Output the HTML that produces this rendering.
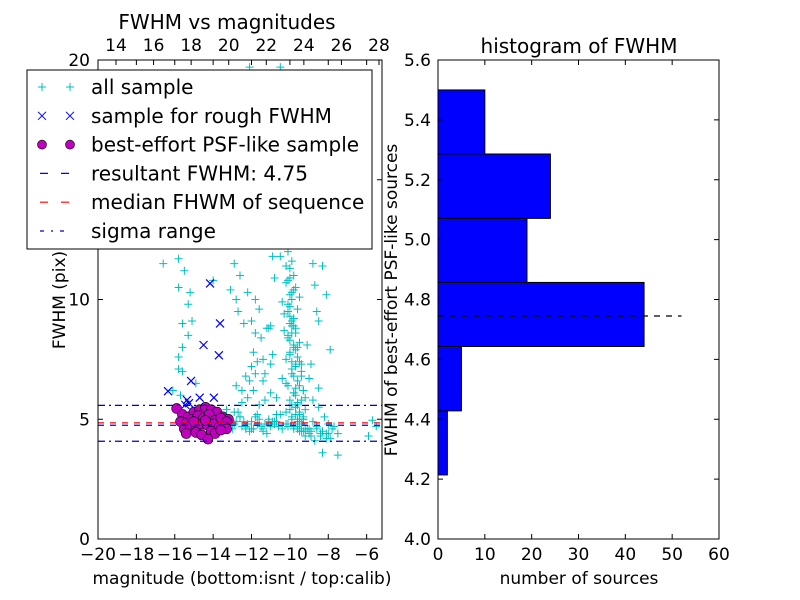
<!DOCTYPE html>
<html><head><meta charset="utf-8"><style>
body{margin:0;background:#fff;}
svg{display:block;font-family:"DejaVu Sans","Liberation Sans",sans-serif;}
</style></head><body>
<svg id="fig" width="800" height="600" xmlns="http://www.w3.org/2000/svg">
<rect width="800" height="600" fill="#fff"/>
</svg>
<script>
// ---- data: left panel ----
const allMag = [-12.1,-10.5,-10.4,-10.3,-9.8,-16.6,-15.8,-15.5,-15.8,-15.2,-15.3,-15.1,-15.6,-15.3,-15.6,-15.8,-15.8,-15.6,-16.1,-15.7,-14.9,-14.0,-12.9,-13.1,-12.8,-12.7,-12.6,-12.2,-11.8,-11.6,-12.0,-12.4,-11.5,-11.2,-11.9,-11.4,-12.0,-11.3,-12.1,-12.5,
-10.3,-10.1,-9.9,-10.0,-9.8,-10.2,-9.7,-10.0,-9.9,-10.1,-9.6,-10.3,-9.8,-10.0,-9.7,-9.9,-10.1,-9.5,-9.8,-10.0,-9.6,-9.9,-9.7,-9.4,-9.8,-9.6,-9.5,-9.3,-9.7,-9.4,-9.6,-9.2,-9.5,-9.3,-9.6,-9.4,-9.1,-9.3,-9.0,-9.2,
-10.5,-10.2,-10.0,-9.8,-10.4,-10.1,-9.9,-10.3,-10.0,-9.7,-10.2,-9.9,-10.4,-10.1,-9.8,-10.0,-9.7,-10.2,-9.9,-9.6,-10.1,-9.8,-9.5,-9.9,-9.7,-9.4,-9.8,-9.5,-9.3,-9.6,
-13.2,-12.9,-12.6,-12.3,-12.0,-11.7,-11.4,-11.1,-10.8,-10.6,-13.0,-12.7,-12.4,-12.1,-11.8,-11.5,-11.2,-10.9,-10.7,-8.8,-8.6,-8.4,-8.2,-8.0,-7.8,-8.9,-8.5,-8.1,-7.7,-7.5,
-12.5,-12.2,-11.9,-11.6,-11.3,-11.0,-10.7,-12.8,-11.8,-11.0,-8.7,-8.3,-8.8,-8.5,-7.9,-8.3,-8.8,-8.1,-7.5,-5.7,-5.5,-5.9,-8.5,-8.1,-11.0,-11.8,-10.9,-11.4,-12.3,-11.7,
-10.6,-10.9,-11.3,-10.8,-11.1,-9.0,-8.9,-9.1,-8.6,-8.7,-13.8,-13.5,-14.5,-13.3,-12.9,-10.4,-10.6,-9.9,-10.2,-9.4,
-10.0,-9.9,-10.1,-9.8,-10.0,-9.7,-9.9,-10.2,-9.8,-9.6,-10.0,-9.7,-9.9,-9.5,-9.8,-9.6,-9.4,-9.7,-9.5,-9.3,-10.1,-9.9,-10.0,-9.8,-9.7,-9.6,-9.5,-9.4,-9.3,-9.2,
-12.8,-12.5,-12.2,-11.9,-11.6,-11.3,-11.0,-10.7,-10.4,-10.1,-9.8,-9.5,-9.2,-8.9,-8.6,-8.3,-8.0,-12.6,-12.0,-11.4,-10.8,-10.2,-9.6,-9.0,-8.4,-7.9,-12.3,-11.7,-11.1,-10.5];
const allFwhm = [19.7,19.7,19.3,19.0,18.8,11.5,11.7,11.2,10.5,10.3,9.8,9.1,9.0,8.5,8.0,7.6,7.1,7.0,6.2,6.0,6.5,10.8,11.5,10.4,10.0,9.5,11.0,10.3,10.0,9.6,9.1,9.0,8.4,8.8,7.8,7.5,7.2,6.9,6.6,6.2,
12.4,12.0,11.6,11.3,11.0,10.7,10.5,10.2,10.0,9.8,9.6,9.4,9.2,9.0,8.8,8.6,8.4,8.2,8.0,7.8,7.6,7.4,7.2,7.0,6.8,6.6,6.4,6.2,6.0,5.8,5.6,5.4,5.2,5.0,4.9,4.8,4.6,4.5,4.4,4.3,
11.8,11.4,10.9,10.4,9.9,9.5,9.1,8.7,8.3,7.9,7.5,7.1,6.7,6.4,6.1,5.8,5.5,5.3,5.1,4.9,4.7,4.6,4.5,5.6,6.3,7.3,8.9,10.1,5.0,4.7,
5.0,4.8,5.1,4.7,4.9,5.2,4.6,5.0,4.8,4.7,4.6,5.3,4.9,4.5,5.1,4.7,4.4,4.9,5.2,4.9,4.6,4.4,5.1,4.8,4.6,4.3,5.5,4.2,4.7,4.4,
5.7,5.9,6.2,5.6,5.8,6.1,5.9,6.4,6.9,7.3,4.1,3.6,5.8,6.3,7.9,11.4,11.5,4.4,3.5,4.96,4.7,4.3,9.1,10.2,8.9,8.6,7.7,6.6,6.8,7.4,
12.3,11.8,12.6,10.9,8.8,6.7,7.3,8.1,9.5,10.6,5.1,4.9,4.7,5.4,5.3,13.2,14.0,13.5,12.9,12.7,
9.3,8.9,8.5,8.1,7.7,7.3,6.9,6.5,6.1,5.7,5.4,5.2,5.0,4.8,4.7,4.6,4.5,5.5,5.3,5.1,10.8,10.3,9.7,9.2,8.6,8.0,7.4,6.8,6.2,5.9,
4.9,4.7,4.8,4.6,5.0,4.8,4.7,4.9,4.6,4.8,4.7,4.9,4.6,4.5,4.7,4.5,4.4,5.1,4.6,4.5,4.9,4.8,5.0,4.6,4.3,4.2,4.6,4.8,4.9,5.2];
const roughMag = [-14.16,-13.64,-14.5,-13.7,-15.15,-16.35,-15.36,-15.26,-14.7,-13.96,-15.45];
const roughFwhm = [10.67,9.0,8.1,7.67,6.6,6.17,5.8,5.67,5.9,5.9,5.6];
const psfMag = [-15.9,-15.6,-15.3,-15.0,-14.7,-14.4,-14.1,-13.8,-13.5,-13.2,-15.7,-15.4,-15.1,-14.8,-14.5,-14.2,-13.9,-13.6,-13.3,-15.5,-15.2,-14.9,-14.6,-14.3,-14.0,-13.7,-13.4,-15.4,-14.9,-14.6,-14.1,-13.9,-13.3,-14.27,-15.0,-14.4,-13.6];
const psfFwhm = [5.45,5.2,5.1,5.3,5.4,5.5,5.4,5.3,5.1,5.0,4.9,4.85,5.0,5.15,5.05,5.2,4.95,5.05,4.9,4.6,4.7,4.6,4.8,4.75,4.8,4.65,4.7,4.4,4.45,4.35,4.5,4.4,4.6,4.17,4.9,4.95,4.55];
const resultFwhm = 4.75, medianFwhm = 4.85, sigmaLo = 4.08, sigmaHi = 5.58;
const leftXTicks = [-20,-18,-16,-14,-12,-10,-8,-6];
const leftYTicks = [0,5,10,15,20];
const topTicks = [14,16,18,20,22,24,26,28];
// ---- data: histogram ----
const binEdges = [4.214,4.428,4.643,4.857,5.071,5.286,5.5];
const binCounts = [2,5,44,19,24,10];
const histXTicks = [0,10,20,30,40,50,60];
const histYTicks = [4.0,4.2,4.4,4.6,4.8,5.0,5.2,5.4,5.6];
const histLineVal = 4.745, histLineEnd = 52;

const NS="http://www.w3.org/2000/svg", svg=document.getElementById('fig');
function mk(tag,attrs,parent,txt){const e=document.createElementNS(NS,tag);for(const k in attrs)e.setAttribute(k,attrs[k]);if(txt!==undefined)e.textContent=txt;(parent||svg).appendChild(e);return e;}

const L={x0:98,x1:382,y0:539,y1:60};
const lx=v=>L.x0+(v+20)*(L.x1-L.x0)/14.8;
const ly=v=>L.y0-v*(L.y0-L.y1)/20;
const tx=v=>116+(v-14)*(379-116)/14;
const gL=mk('g',{});


mk('defs',{},svg).innerHTML='<clipPath id="cl"><rect x="98" y="60" width="284" height="479"/></clipPath><clipPath id="cr"><rect x="438" y="60" width="281" height="479"/></clipPath>';
const pts=mk('g',{'clip-path':'url(#cl)'},gL);
allMag.forEach((m,i)=>{const x=lx(m),y=ly(allFwhm[i]);
 const p=mk('path',{d:`M${x-4},${y}H${x+4}M${x},${y-4}V${y+4}`,stroke:'#00bfbf','stroke-width':1},pts);
 
 });
roughMag.forEach((m,i)=>{const x=lx(m),y=ly(roughFwhm[i]);
 const p=mk('path',{d:`M${x-4},${y-4}L${x+4},${y+4}M${x-4},${y+4}L${x+4},${y-4}`,stroke:'#0000ff','stroke-width':1.2},pts);
 
 });
psfMag.forEach((m,i)=>{
 const c=mk('circle',{cx:lx(m),cy:ly(psfFwhm[i]),r:5,fill:'#bf00bf',stroke:'#000','stroke-width':0.6},pts);
 
 });
function hl(v,col,dash,name){const l=mk('line',{x1:L.x0,x2:L.x1,y1:ly(v),y2:ly(v),stroke:col,'stroke-width':1.2,'stroke-dasharray':dash},pts);
 
 }
hl(medianFwhm,'#ff0000','6,6','median-line');
hl(resultFwhm,'#0000ff','6,6','resultant-line');
hl(sigmaLo,'#0000bf','7,4,2,4','sigma-low-line');
hl(sigmaHi,'#0000bf','7,4,2,4','sigma-high-line');
mk('rect',{x:L.x0,y:L.y1,width:L.x1-L.x0,height:L.y0-L.y1,fill:'none',stroke:'#000'},gL);
leftXTicks.forEach(v=>{const x=lx(v);mk('path',{d:`M${x},539v-5M${x},60v5`,stroke:'#000'},gL);
 mk('text',{x:x,y:560,'text-anchor':'middle','font-size':17},gL,(v<0?'\u2212':'')+Math.abs(v));});
leftYTicks.forEach(v=>{const y=ly(v);mk('path',{d:`M98,${y}h5M382,${y}h-5`,stroke:'#000'},gL);
 mk('text',{x:90,y:y+6,'text-anchor':'end','font-size':17},gL,v);});
topTicks.forEach(v=>{const x=tx(v);mk('path',{d:`M${x},60v5`,stroke:'#000'},gL);
 mk('text',{x:x,y:51,'text-anchor':'middle','font-size':17},gL,v);});
const t1=mk('text',{x:227,y:29,'text-anchor':'middle','font-size':20},gL,'FWHM vs magnitudes');

const xl=mk('text',{x:242,y:584,'text-anchor':'middle','font-size':17},gL,'magnitude (bottom:isnt / top:calib)');

const yl=mk('text',{x:0,y:0,transform:'translate(65,300) rotate(-90)','text-anchor':'middle','font-size':17},gL,'FWHM (pix)');


const lg=mk('g',{});


mk('rect',{x:27,y:70,width:345,height:179,fill:'#fff',stroke:'#000'},lg);
const labels=['all sample','sample for rough FWHM','best-effort PSF-like sample','resultant FWHM: 4.75','median FHWM of sequence','sigma range'];
labels.forEach((t,i)=>{const y=87+i*28.8;
 const e=mk('g',{},lg);
 
 
 [42,70].forEach(x=>{
  if(i==0)mk('path',{d:`M${x-4},${y}h8M${x},${y-4}v8`,stroke:'#00bfbf'},e);
  if(i==1)mk('path',{d:`M${x-4},${y-4}l8,8M${x-4},${y+4}l8,-8`,stroke:'#0000ff'},e);
  if(i==2)mk('circle',{cx:x,cy:y,r:4.5,fill:'#bf00bf',stroke:'#000','stroke-width':0.6},e);});
 if(i==3)mk('path',{d:`M40,${y}h8M61,${y}h8`,stroke:'#0000ff','stroke-width':1.2},e);
 if(i==4)mk('path',{d:`M40,${y}h8M61,${y}h8`,stroke:'#ff0000','stroke-width':1.2},e);
 if(i==5)mk('path',{d:`M40,${y}h4M51,${y}h2M60,${y}h4`,stroke:'#0000bf','stroke-width':1.2},e);
 mk('text',{x:91,y:y+7,'font-size':20},e,t);});

const R={x0:438,x1:719,y0:539,y1:60};
const rx=v=>R.x0+v*(R.x1-R.x0)/60;
const ry=v=>R.y0-(v-4)*(R.y0-R.y1)/1.6;
const gR=mk('g',{});


const bars=mk('g',{'clip-path':'url(#cr)'},gR);
binCounts.forEach((c,i)=>{const y1=ry(binEdges[i+1]),y0=ry(binEdges[i]);
 const b=mk('rect',{x:rx(0),y:y1,width:rx(c)-rx(0),height:y0-y1,fill:'#0000ff',stroke:'#000','stroke-width':1},bars);
 
 });
const hlx=mk('line',{x1:rx(0),x2:rx(histLineEnd),y1:ry(histLineVal),y2:ry(histLineVal),stroke:'#000','stroke-width':1.2,'stroke-dasharray':'6,6'},gR);

mk('rect',{x:R.x0,y:R.y1,width:R.x1-R.x0,height:R.y0-R.y1,fill:'none',stroke:'#000'},gR);
histXTicks.forEach(v=>{const x=rx(v);mk('path',{d:`M${x},539v-5M${x},60v5`,stroke:'#000'},gR);
 mk('text',{x:x,y:560,'text-anchor':'middle','font-size':17},gR,v);});
histYTicks.forEach(v=>{const y=ry(v);mk('path',{d:`M438,${y}h5M719,${y}h-5`,stroke:'#000'},gR);
 mk('text',{x:431,y:y+6,'text-anchor':'end','font-size':17},gR,v.toFixed(1));});
const t2=mk('text',{x:579,y:53,'text-anchor':'middle','font-size':20},gR,'histogram of FWHM');

const xl2=mk('text',{x:579,y:584,'text-anchor':'middle','font-size':17},gR,'number of sources');

const yl2=mk('text',{x:0,y:0,transform:'translate(397,300) rotate(-90)','text-anchor':'middle','font-size':17},gR,'FWHM of best-effort PSF-like sources');

</script>
</body></html>
